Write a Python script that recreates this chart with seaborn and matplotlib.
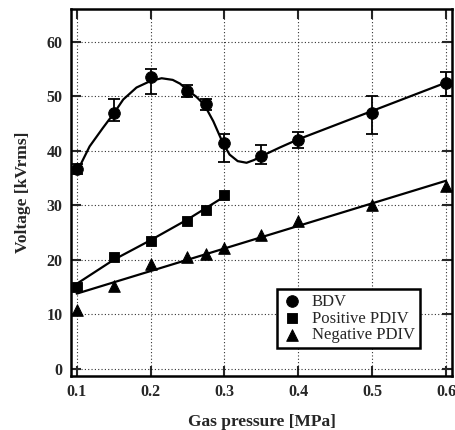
import numpy as np
import pandas as pd
import matplotlib
matplotlib.use("Agg")
import matplotlib.pyplot as plt
import seaborn as sns

p_bdv = [0.1, 0.15, 0.2, 0.25, 0.275, 0.3, 0.35, 0.4, 0.5, 0.6]
bdv = [36.7, 47.0, 53.5, 51.0, 48.5, 41.5, 39.0, 42.0, 47.0, 52.5]
bdv_lo = [35.8, 45.5, 50.5, 49.8, 47.5, 38.0, 37.5, 40.5, 43.0, 50.0]
bdv_hi = [37.5, 49.5, 55.0, 52.0, 49.5, 43.0, 41.0, 43.5, 50.0, 54.5]

p_pos = [0.1, 0.15, 0.2, 0.25, 0.275, 0.3]
pos = [15.0, 20.5, 23.5, 27.2, 29.2, 31.8]

p_neg = [0.1, 0.15, 0.2, 0.25, 0.275, 0.3, 0.35, 0.4, 0.5, 0.6]
neg = [10.8, 15.2, 19.3, 20.5, 21.0, 22.2, 24.5, 27.2, 30.0, 33.5]

# fitted curves
p_bdv_fit = [0.1, 0.105, 0.1175, 0.135, 0.151, 0.163, 0.181, 0.2, 0.215,
             0.23, 0.24, 0.251, 0.262, 0.273, 0.285, 0.298, 0.307, 0.318,
             0.33, 0.34, 0.35, 0.375, 0.4, 0.5, 0.6]
bdv_fit = [36.6, 37.4, 40.8, 44.1, 47.0, 49.4, 51.6, 52.8, 53.3,
           53.0, 52.3, 51.0, 49.9, 48.4, 45.4, 41.4, 39.3, 38.1,
           37.8, 38.3, 39.0, 40.6, 42.1, 47.3, 52.5]
p_pos_fit = [0.1, 0.15, 0.2, 0.25, 0.3]
pos_fit = [15.6, 20.0, 23.6, 27.4, 31.6]
p_neg_fit = [0.1, 0.6]
neg_fit = [13.8, 34.5]

df_bdv = pd.DataFrame({"p": p_bdv, "v": bdv})
df_pos = pd.DataFrame({"p": p_pos, "v": pos})
df_neg = pd.DataFrame({"p": p_neg, "v": neg})

sns.set_style("ticks")
plt.rcParams['font.family'] = ['Liberation Serif', 'DejaVu Serif']

fig = plt.figure(figsize=(4.56, 4.30), dpi=100)
ax = fig.add_axes([0.1557, 0.1256, 0.8355, 0.8535])

# fit lines
ax.plot(p_bdv_fit, bdv_fit, color='black', lw=1.6, zorder=3)
ax.plot(p_pos_fit, pos_fit, color='black', lw=1.6, zorder=3)
ax.plot(p_neg_fit, neg_fit, color='black', lw=1.6, zorder=3)

# error bars for BDV
yerr = [np.array(bdv) - np.array(bdv_lo), np.array(bdv_hi) - np.array(bdv)]
ax.errorbar(p_bdv, bdv, yerr=yerr, fmt='none', ecolor='black', elinewidth=1.3,
            capsize=4, capthick=1.3, zorder=3)

sns.scatterplot(data=df_bdv, x="p", y="v", marker='o', s=70, color='black',
                edgecolor='black', ax=ax, zorder=4, label='BDV')
sns.scatterplot(data=df_pos, x="p", y="v", marker='s', s=60, color='black',
                edgecolor='black', ax=ax, zorder=4, label='Positive PDIV')
sns.scatterplot(data=df_neg, x="p", y="v", marker='^', s=70, color='black',
                edgecolor='black', ax=ax, zorder=4, label='Negative PDIV')

ax.set_xlim(0.0923, 0.6081)
ax.set_ylim(-1.3, 66)
ax.set_xticks([0.1, 0.2, 0.3, 0.4, 0.5, 0.6])
ax.set_xticklabels(['0.1', '0.2', '0.3', '0.4', '0.5', '0.6'])
ax.set_yticks([0, 10, 20, 30, 40, 50, 60])
ax.grid(True, linestyle=(0, (1, 2)), color='black', lw=0.8, alpha=0.8)
ax.tick_params(direction='in', length=7, width=1.5, top=True, right=True,
               labelsize=11.5, pad=6)
for lab in ax.get_xticklabels() + ax.get_yticklabels():
    lab.set_fontweight('bold')
for s in ax.spines.values():
    s.set_linewidth(1.8)
    s.set_color('black')

ax.set_xlabel('Gas pressure [MPa]', fontsize=12.5, fontweight='bold', labelpad=10)
ax.set_ylabel('Voltage [kVrms]', fontsize=12.5, fontweight='bold', labelpad=11)

leg = ax.legend(loc='lower left', bbox_to_anchor=(0.54, 0.075), fontsize=12,
                frameon=True, fancybox=False, edgecolor='black',
                handletextpad=0.6, borderpad=0.3, labelspacing=0.05,
                handlelength=1.2, borderaxespad=0)
leg.get_frame().set_linewidth(1.8)
leg.get_frame().set_alpha(1)

fig.savefig("out.png", dpi=100)
